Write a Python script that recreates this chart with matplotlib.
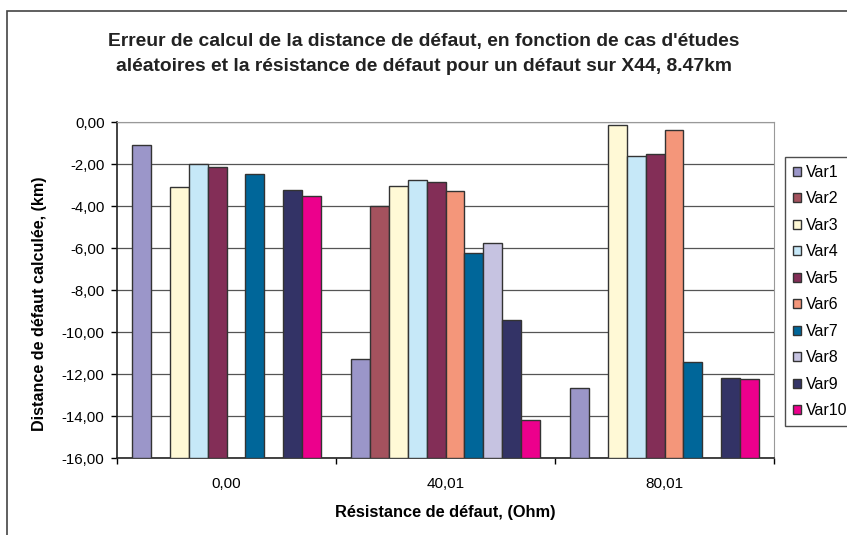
import matplotlib
matplotlib.use('Agg')
import matplotlib.pyplot as plt
from matplotlib.patches import Rectangle
from matplotlib.ticker import FuncFormatter, FixedLocator
import numpy as np

plt.rcParams['font.family'] = ['Liberation Sans', 'DejaVu Sans']

categories = ['0,00', '40,01', '80,01']
series = ['Var1', 'Var2', 'Var3', 'Var4', 'Var5',
          'Var6', 'Var7', 'Var8', 'Var9', 'Var10']
colors = ['#9b96c9', '#a4525e', '#fff9d6', '#c6e8f8', '#832e57',
          '#f4967a', '#006699', '#c6c3e1', '#333366', '#ec008c']

# distance error (km) per series, one value per resistance; None = no case
values = {
    'Var1': [-1.11, -11.28, -12.68],
    'Var2': [None, -4.00, None],
    'Var3': [-3.10, -3.05, -0.14],
    'Var4': [-2.02, -2.75, -1.60],
    'Var5': [-2.13, -2.86, -1.52],
    'Var6': [None, -3.27, -0.40],
    'Var7': [-2.49, -6.23, -11.42],
    'Var8': [None, -5.75, None],
    'Var9': [-3.26, -9.44, -12.17],
    'Var10': [-3.53, -14.19, -12.25],
}

ymin, ymax = -16, 0

fig = plt.figure(figsize=(8.47, 5.35), dpi=100)
ax = fig.add_axes([117 / 847, 1 - 458 / 535, (774 - 117) / 847, (458 - 122) / 535])

# outer chart frame (only left and top edges fall inside the image)
fig.patches.append(Rectangle((7 / 847, -0.2), 1.2, 1.2 - 11 / 535,
                             transform=fig.transFigure, fill=False,
                             edgecolor='#444444', lw=1.2))

x = np.arange(len(categories))
w = 0.086
handles = []
for i, name in enumerate(series):
    xs, hs = [], []
    for j, v in enumerate(values[name]):
        if v is None:
            continue
        xs.append(x[j] + (i - 4.5) * w)
        hs.append(v - ymin)
    b = ax.bar(xs, hs, width=w, bottom=ymin, color=colors[i],
               edgecolor='#333333', linewidth=1.0, zorder=3, label=name)
    handles.append(b)

ax.set_xlim(-0.5, len(categories) - 0.5)
ax.set_ylim(ymin, ymax)
ax.set_yticks(np.arange(ymin, ymax + 1, 2))
ax.yaxis.set_major_formatter(FuncFormatter(lambda v, p: f'{v:.2f}'.replace('.', ',')))
ax.grid(axis='y', color='#555555', lw=0.9, zorder=0)

ax.set_xticks(x)
ax.set_xticklabels(categories)
ax.xaxis.set_minor_locator(FixedLocator(np.arange(-0.5, len(categories), 1)))
ax.tick_params(axis='x', which='major', length=0, pad=14, labelsize=11)
ax.tick_params(axis='x', which='minor', length=4, direction='out', width=1)
ax.tick_params(axis='y', length=4, direction='out', width=1, labelsize=10.8, pad=5)

for s in ['top', 'right']:
    ax.spines[s].set_color('#999999')
for s in ['left', 'bottom']:
    ax.spines[s].set_color('#222222')
    ax.spines[s].set_linewidth(1.2)

ax.set_xlabel('Résistance de défaut, (Ohm)', fontsize=11.8, fontweight='bold', labelpad=10)
ax.set_ylabel('Distance de défaut calculée, (km)', fontsize=11.6, fontweight='bold')
ax.yaxis.set_label_coords(-0.106, 0.458)

fig.text(424 / 847, 1 - 54 / 535,
         "Erreur de calcul de la distance de défaut, en fonction de cas d'études\n"
         "aléatoires et la résistance de défaut pour un défaut sur X44, 8.47km",
         ha='center', va='center', fontsize=13.9, fontweight='bold',
         linespacing=1.68, color='#222222')

leg = fig.legend(handles=handles, loc='upper left',
                 bbox_to_anchor=(785 / 847, 1 - 157 / 535), fontsize=11.5,
                 frameon=True, fancybox=False, edgecolor='#222222',
                 handlelength=0.5, handleheight=0.5, handletextpad=0.3,
                 labelspacing=0.72, borderpad=0.5, borderaxespad=0)
leg.get_frame().set_linewidth(1.0)

fig.savefig('out.png', dpi=100)
